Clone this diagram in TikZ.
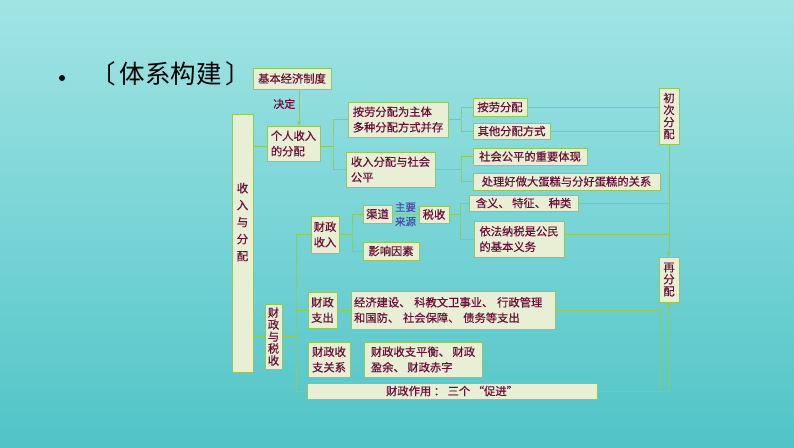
\documentclass[tikz,border=0pt]{standalone}
\usepackage{fontspec}
\setmainfont{Noto Sans CJK SC}
\newfontfamily\boxfont{Noto Sans CJK SC}[FakeBold=0.5]
\usepackage{tikz}
\usetikzlibrary{positioning,arrows.meta}
\definecolor{bgtop}{HTML}{A2E4E4}
\definecolor{bgbot}{HTML}{50C4C7}
\definecolor{boxfill}{HTML}{E8EFD4}
\definecolor{boxline}{HTML}{92C85A}
\definecolor{linkc}{HTML}{8CCB5C}
\definecolor{txt}{HTML}{6A0F3A}
\definecolor{labc}{HTML}{4A4AA8}

\tikzset{
  box/.style={draw=boxline, fill=boxfill, text=txt, line width=.8pt, inner sep=1pt,
              align=left, font=\boxfont\fontsize{11.3}{15.5}\selectfont},
  vbox/.style={box, align=center, font=\boxfont\fontsize{11.3}{12}\selectfont},
  link/.style={draw=linkc, line width=.7pt},
  lab/.style={text=labc, inner sep=2pt, font=\boxfont\fontsize{10.5}{11}\selectfont},
}

\begin{document}
\begin{tikzpicture}[x=1pt,y=-1pt,>={Stealth[length=5pt,width=4pt]}]
        % background
        \useasboundingbox (0,0) rectangle (794,447);
        \shade[top color=bgtop, bottom color=bgbot] (0,0) rectangle (794,447);
        % title
        \node[circle, fill=black, inner sep=0pt, minimum size=6pt] (dot) at (62,78) {};
        \node[font=\fontsize{25.5}{25.5}\selectfont] (title) at (171,74) {〔\hspace{4pt}体系构建\hspace{4pt}〕};

        % left column
        \node[box, minimum width=78, minimum height=21] (jbzd) at (292,78.5) {基本经济制度};
        \node[box, minimum width=53, minimum height=35] (grsr) at (293.5,143.5) {个人收入\\的分配};
        \node[box, minimum width=21, minimum height=258] (srfp) at (242.5,243) {};
        \node[text=txt, align=center, font=\boxfont\fontsize{11.5}{17}\selectfont] (srfpt) at (242.5,222) {收\\入\\与\\分\\配};
        \node[vbox, minimum width=17, minimum height=65] (czss) at (273.5,336.5) {财\\政\\与\\税\\收};

        % individual income
        \node[box, minimum width=100, minimum height=35] (alzt) at (398,119.5) {按劳分配为主体\\多种分配方式并存};
        \node[box, minimum width=89, minimum height=35] (srgp) at (390.5,169.5) {收入分配与社会\\公平};
        \node[box, minimum width=54, minimum height=18] (alfp) at (500,107) {按劳分配};
        \node[box, minimum width=77, minimum height=16] (qtfs) at (511.5,131) {其他分配方式};
        \node[box, minimum width=114, minimum height=17] (shgp) at (530,156.5) {社会公平的重要体现};
        \node[box, minimum width=187, minimum height=17] (dgcl) at (566.5,181.5) {处理好做大蛋糕与分好蛋糕的关系};

        % fiscal
        \node[box, minimum width=28, minimum height=37] (czsr) at (325,234.5) {财政\\收入};
        \node[box, minimum width=29, minimum height=18] (qd) at (377.5,214) {渠道};
        \node[box, minimum width=56, minimum height=18] (yxys) at (391,251) {影响因素};
        \node[box, minimum width=30, minimum height=17] (ss) at (434,214.5) {税收};
        \node[box, minimum width=109, minimum height=16] (hytz) at (523.5,203) {含义、 特征、 种类};
        \node[box, minimum width=90, minimum height=36] (yfns) at (519,239) {依法纳税是公民\\的基本义务};
        \node[box, minimum width=29, minimum height=36] (czzc) at (322.5,310) {财政\\支出};
        \node[box, inner xsep=3pt, text width=198, minimum height=38] (jjjs) at (453,310) {经济建设、 科教文卫事业、 行政管理\\和国防、 社会保障、 债务等支出};
        \node[box, minimum width=42, minimum height=35] (czgx) at (329,359.5) {财政收\\支关系};
        \node[box, minimum width=118, minimum height=35] (szph) at (423,359.5) {财政收支平衡、 财政\\盈余、 财政赤字};
        \node[box, align=center, minimum width=290, minimum height=16] (czzy) at (452,391) {财政作用 ： 三个 “促进”};

        % right column
        \node[vbox, minimum width=20, minimum height=56] (ccfp) at (669,116) {初\\次\\分\\配};
        \node[vbox, minimum width=20, minimum height=45] (zfp) at (669,279.5) {再\\分\\配};

        % bracket points
        \coordinate (gj) at (333,146);
        \coordinate (aj) at (461,119.5);
        \coordinate (sj) at (461,169.5);
        \coordinate (cj) at (296,336.5);
        \coordinate (rj) at (352,234.5);
        \coordinate (tj) at (460,214.5);
        \coordinate (zj) at (660,391);

        % links
        \draw[link,->] ([xshift=7pt]jbzd.south) -- node[pos=.4, left, text=txt, font=\boxfont\fontsize{11}{11}\selectfont] (jd) {决定} ([xshift=7pt]jbzd.south |- grsr.north);
        \draw[link] ([yshift=-2.5pt]grsr.west) -- ([yshift=-2.5pt]grsr.west -| srfp.east);
        \draw[link] (czss.west) -- (czss.west -| srfp.east);
        \draw[link] ([yshift=-2.5pt]grsr.east) -- (gj);
        \draw[link] (alzt.west) -| (gj) |- (srgp.west);
        \draw[link] (alzt.east) -- (aj);
        \draw[link] (alfp.west) -| (aj) |- (qtfs.west);
        \draw[link] (srgp.east) -- (sj);
        \draw[link] (shgp.west) -| (sj) |- (dgcl.west);
        \foreach \n in {alfp,qtfs} \draw[link] (\n.east) -- (\n.east -| ccfp.west);
        \draw[link,->] (ccfp.south) -- (zfp.north);

        \draw[link] (czss.east) -- (cj);
        \draw[link] (czsr.west) -| (cj) |- (czzy.west);
        \foreach \n in {czzc,czgx} \draw[link] (\n.west) -- (\n.west -| cj);
        \draw[link] (czsr.east) -- (rj);
        \draw[link] (qd.west) -| (rj) |- (yxys.west);
        \draw[link] (qd) -- node[lab, above] (zy) {主要} node[lab, below] (ly) {来源} (ss);
        \draw[link] (ss.east) -- (tj);
        \draw[link] (hytz.west) -| (tj) |- (yfns.west);
        \draw[link] (hytz.east) -- (hytz.east -| ccfp.south);
        \draw[link] ([yshift=5pt]yfns.east) -- ([yshift=5pt]yfns.east -| ccfp.south);
        \draw[link] (czzc) -- (jjjs);
        \draw[link] (czgx) -- (szph);
        \draw[link] (jjjs.east) -| (zj);
        \draw[link,->] (czzy.east) -| (zfp.south);
      \end{tikzpicture}
\end{document}
